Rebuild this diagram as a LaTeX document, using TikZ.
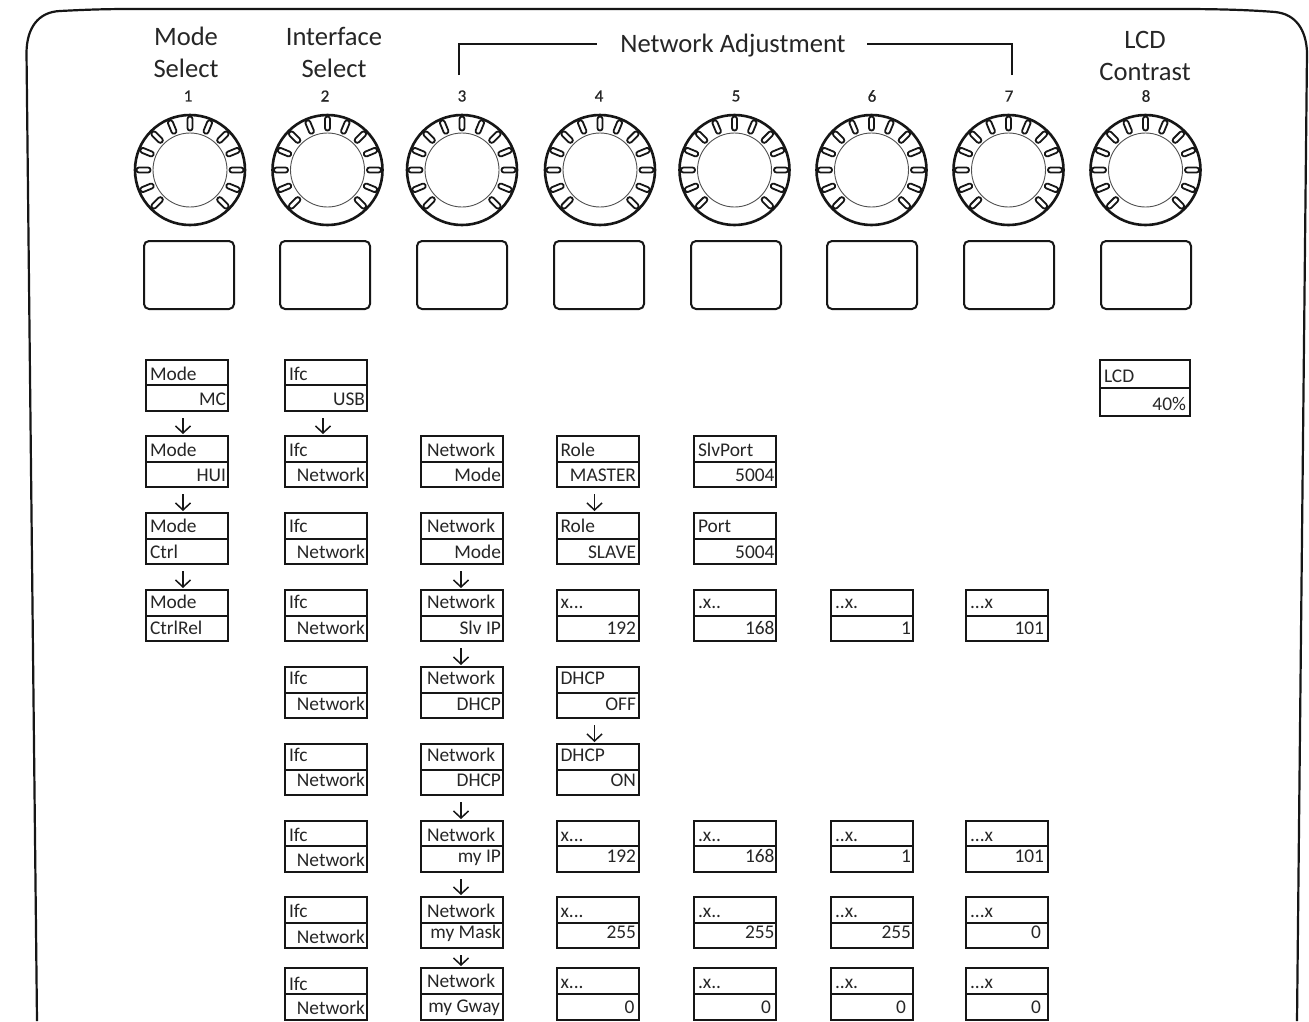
\documentclass[tikz,border=0pt]{standalone}
\usepackage{fontspec}
\setmainfont{Carlito}
\newfontfamily\numfont[FakeBold=0.6]{Carlito}
\usetikzlibrary{arrows.meta}
\definecolor{ink}{HTML}{161616}
\definecolor{txt}{HTML}{262626}
\tikzset{
  lcdbox/.style={draw=ink,line width=2pt,rectangle,inner sep=0pt,outer sep=0pt},
  lcdtext/.style={inner sep=0pt,outer sep=0pt,text=txt,font=\fontsize{19.4}{20}\selectfont},
  title/.style={inner sep=0pt,text=txt,font=\fontsize{26.6}{28}\selectfont},
  num/.style={inner sep=0pt,text=txt,font=\numfont\fontsize{17}{18}\selectfont},
  stepflow/.style={draw=ink,line width=1.5pt,-{Straight Barb[length=7pt,width=15pt]},shorten <=7pt,shorten >=2pt},
  knobring/.style={circle,draw=ink,line width=2.6pt,minimum size=110pt,inner sep=0pt,outer sep=0pt},
  knobcore/.style={circle,draw=ink!75,line width=0.9pt,minimum size=74pt,inner sep=0pt,outer sep=0pt},
  knobslot/.style={draw=ink,fill=white,line width=1.8pt,rounded corners=2.4pt},
  keybox/.style={rectangle,rounded corners=5pt,draw=ink,line width=2pt,minimum width=90pt,minimum height=68pt,inner sep=0pt,outer sep=0pt},
  frameline/.style={draw=ink,line width=2.2pt},
  bracket/.style={draw=ink,line width=2pt}
}
% column left and right edges
\expandafter\def\csname clA\endcsname{146}\expandafter\def\csname crA\endcsname{228}
\expandafter\def\csname clB\endcsname{285}\expandafter\def\csname crB\endcsname{367}
\expandafter\def\csname clC\endcsname{421}\expandafter\def\csname crC\endcsname{503}
\expandafter\def\csname clD\endcsname{556.5}\expandafter\def\csname crD\endcsname{638.5}
\expandafter\def\csname clE\endcsname{694}\expandafter\def\csname crE\endcsname{776}
\expandafter\def\csname clF\endcsname{831}\expandafter\def\csname crF\endcsname{913}
\expandafter\def\csname clG\endcsname{966}\expandafter\def\csname crG\endcsname{1048}
% rows: top, divider, bottom, offset of upper baseline
\def\rowdata#1#2#3#4#5{\expandafter\def\csname rt#1\endcsname{#2}\expandafter\def\csname rd#1\endcsname{#3}\expandafter\def\csname rb#1\endcsname{#4}\expandafter\def\csname ro#1\endcsname{#5}}
\rowdata{1}{360}{385}{411}{5}
\rowdata{2}{436}{462}{487}{6}
\rowdata{3}{513}{539}{564}{7}
\rowdata{4}{590}{616}{641}{8}
\rowdata{5}{667}{693}{718}{9}
\rowdata{6}{744}{770}{795}{9}
\rowdata{7}{821}{846}{872}{5}
\rowdata{8}{897}{923}{948}{6}
\rowdata{9}{968}{994}{1020}{7}
\def\rin{2}\def\lin{4}\def\tadj{0}
\newcommand\lcdraw[9]{%
  \pgfmathsetmacro\bw{#3-#2}\pgfmathsetmacro\bh{#6-#4}%
  \pgfmathsetmacro\bx{(#2+#3)/2}\pgfmathsetmacro\by{(#4+#6)/2}%
  \pgfmathsetmacro\bb{#5+#7}%
  \node[lcdbox,minimum width=\bw pt,minimum height=\bh pt] (#1) at (\bx,\by) {};
  \draw[draw=ink,line width=1.7pt] (#2,#5) -- (#3,#5);
  #8
  #9
}
\newcommand\lcdR[6][19]{% [lower offset]{id}{col}{row}{top}{bottom}
  \lcdraw{#2}{\csname cl#3\endcsname}{\csname cr#3\endcsname}{\csname rt#4\endcsname}{\csname rd#4\endcsname}{\csname rb#4\endcsname}{#1}%
  {\node[lcdtext,anchor=base west] (#2-t) at (\csname cl#3\endcsname+\lin,\csname rd#4\endcsname-\csname ro#4\endcsname+\tadj) {#5};}%
  {\node[lcdtext,anchor=base east] (#2-b) at (\csname cr#3\endcsname-\rin,\bb) {#6};}}
\newcommand\lcdL[6][19]{%
  \lcdraw{#2}{\csname cl#3\endcsname}{\csname cr#3\endcsname}{\csname rt#4\endcsname}{\csname rd#4\endcsname}{\csname rb#4\endcsname}{#1}%
  {\node[lcdtext,anchor=base west] (#2-t) at (\csname cl#3\endcsname+\lin,\csname rd#4\endcsname-\csname ro#4\endcsname) {#5};}%
  {\node[lcdtext,anchor=base west] (#2-b) at (\csname cl#3\endcsname+\lin,\bb) {#6};}}
\newcommand\knobat[3]{%
  \node[knobring] (#1) at (#2,#3) {};
  \foreach \a in {-135,-112.5,-90,-67.5,-45,-22.5,0,22.5,45,67.5,90,112.5,135}{
    \draw[knobslot,rotate around={\a:(#2,#3)}] (#2-2.5,#3-53.5) rectangle (#2+2.5,#3-39.5);
  }
  \node[knobcore] (#1-core) at (#2,#3) {};
}
\newcommand\flow[3]{\draw[stepflow] ([xshift=#3pt]#1.south) -- ([xshift=#3pt]#2.north);}
\begin{document}
\begin{tikzpicture}[x=1pt,y=-1pt]
\useasboundingbox (0,0) rectangle (1309,1021);
\fill[white] (0,0) rectangle (1309,1021);
% housing
\draw[frameline] (37,1021) -- (26.5,52) .. controls (27,28) and (38,12) .. (60,11) .. controls (80,10) and (100,9) .. (130,9)
  -- (1180,9) .. controls (1220,9) and (1250,10) .. (1275,12) .. controls (1296,14) and (1306,30) .. (1307,52) -- (1297,1021);
% titles
\node[title] (tMode) at (186,36.5) {Mode};
\node[title] (tSel1) at (186,68.5) {Select};
\node[title] (tIfc) at (334,36.5) {Interface};
\node[title] (tSel2) at (334,68.5) {Select};
\node[title] (tNet) at (733,46) {Network Adjustment};
\node[title] (tLcd) at (1145,40) {LCD};
\node[title] (tCon) at (1145,72) {Contrast};
\coordinate (brL) at (459,75);
\coordinate (brR) at (1012,75);
\draw[bracket] (brL) |- ([xshift=-23pt,yshift=2pt]tNet.west);
\draw[bracket] (brR) |- ([xshift=21pt,yshift=2pt]tNet.east);
% numbers
\node[num] (n1) at (188,96) {1};
\node[num] (n2) at (325,96) {2};
\node[num] (n3) at (462,96) {3};
\node[num] (n4) at (599,96) {4};
\node[num] (n5) at (736,96) {5};
\node[num] (n6) at (872,96) {6};
\node[num] (n7) at (1009,96) {7};
\node[num] (n8) at (1146,96) {8};
% knobs
\knobat{k1}{190}{170}
\knobat{k2}{327.5}{170}
\knobat{k3}{462}{170}
\knobat{k4}{600}{170}
\knobat{k5}{734.5}{170}
\knobat{k6}{871.5}{170}
\knobat{k7}{1008.5}{170}
\knobat{k8}{1145.5}{170}
% keys
\node[keybox] (s1) at (189,275) {};
\node[keybox] (s2) at (325,275) {};
\node[keybox] (s3) at (462,275) {};
\node[keybox] (s4) at (599,275) {};
\node[keybox] (s5) at (736,275) {};
\node[keybox] (s6) at (872,275) {};
\node[keybox] (s7) at (1009,275) {};
\node[keybox] (s8) at (1146,275) {};
% column 1
\lcdR[20]{a1}{A}{1}{Mode}{MC}
\lcdR{a2}{A}{2}{Mode}{HUI}
\lcdL{a3}{A}{3}{Mode}{Ctrl}
\lcdL[18]{a4}{A}{4}{Mode}{CtrlRel}
% column 2
\lcdR[20]{b1}{B}{1}{Ifc}{USB}
\lcdR{b2}{B}{2}{Ifc}{Network}
\lcdR{b3}{B}{3}{Ifc}{Network}
\lcdR[18]{b4}{B}{4}{Ifc}{Network}
\lcdR[17]{b5}{B}{5}{Ifc}{Network}
\lcdR[16]{b6}{B}{6}{Ifc}{Network}
\lcdR[20]{b7}{B}{7}{Ifc}{Network}
\lcdR[20]{b8}{B}{8}{Ifc}{Network}
\def\tadj{3}
\lcdR[20]{b9}{B}{9}{Ifc}{Network}
\def\tadj{0}
% column 3
\def\lin{6}
\lcdR{c2}{C}{2}{Network}{Mode}
\lcdR{c3}{C}{3}{Network}{Mode}
\lcdR[18]{c4}{C}{4}{Network}{Slv IP}
\lcdR[17]{c5}{C}{5}{Network}{DHCP}
\lcdR[16]{c6}{C}{6}{Network}{DHCP}
\lcdR[16]{c7}{C}{7}{Network}{my IP}
\lcdR[15]{c8}{C}{8}{Network}{my Mask}
\def\rin{3}
\lcdR[18]{c9}{C}{9}{Network}{my Gway}
\def\lin{4}
% column 4
\def\rin{2.5}
\lcdR{d2}{D}{2}{Role}{MASTER}
\lcdR{d3}{D}{3}{Role}{SLAVE}
\lcdR[18]{d4}{D}{4}{x...}{192}
\lcdR[17]{d5}{D}{5}{DHCP}{OFF}
\lcdR[16]{d6}{D}{6}{DHCP}{ON}
\lcdR[16]{d7}{D}{7}{x...}{192}
\lcdR[15]{d8}{D}{8}{x...}{255}
\def\rin{4}\def\tadj{1}
\lcdR[19]{d9}{D}{9}{x...}{0}
\def\tadj{0}
% column 5
\def\rin{1.5}
\lcdR{e2}{E}{2}{SlvPort}{5004}
\lcdR{e3}{E}{3}{Port}{5004}
\lcdR[18]{e4}{E}{4}{.x..}{168}
\lcdR[16]{e7}{E}{7}{.x..}{168}
\lcdR[15]{e8}{E}{8}{.x..}{255}
\def\rin{5}\def\tadj{1}
\lcdR{e9}{E}{9}{.x..}{0}
\def\tadj{0}
% column 6
\def\rin{2}
\lcdR[18]{f4}{F}{4}{..x.}{1}
\lcdR[16]{f7}{F}{7}{..x.}{1}
\lcdR[15]{f8}{F}{8}{..x.}{255}
\def\rin{7}\def\tadj{1}
\lcdR{f9}{F}{9}{..x.}{0}
\def\tadj{0}
% column 7
\def\rin{4}
\lcdR[18]{g4}{G}{4}{...x}{101}
\lcdR[16]{g7}{G}{7}{...x}{101}
\def\rin{7}
\lcdR[15]{g8}{G}{8}{...x}{0}
\def\tadj{1}
\lcdR{g9}{G}{9}{...x}{0}
\def\tadj{0}
% LCD box
\lcdraw{h1}{1100}{1190}{360}{388}{416}{22}{\node[lcdtext,anchor=base west] (h1-t) at (1104,382) {LCD};}{\node[lcdtext,anchor=base east] (h1-b) at (1186,\bb) {40\%};}
% arrows
\flow{a1}{a2}{-4}
\flow{a2}{a3}{-4}
\flow{a3}{a4}{-4}
\flow{b1}{b2}{-3}
\flow{c3}{c4}{-1}
\flow{c4}{c5}{-1}
\flow{c6}{c7}{-1}
\flow{c7}{c8}{-1}
\flow{c8}{c9}{-1}
\flow{d2}{d3}{-3}
\flow{d5}{d6}{-3}
\end{tikzpicture}
\end{document}
